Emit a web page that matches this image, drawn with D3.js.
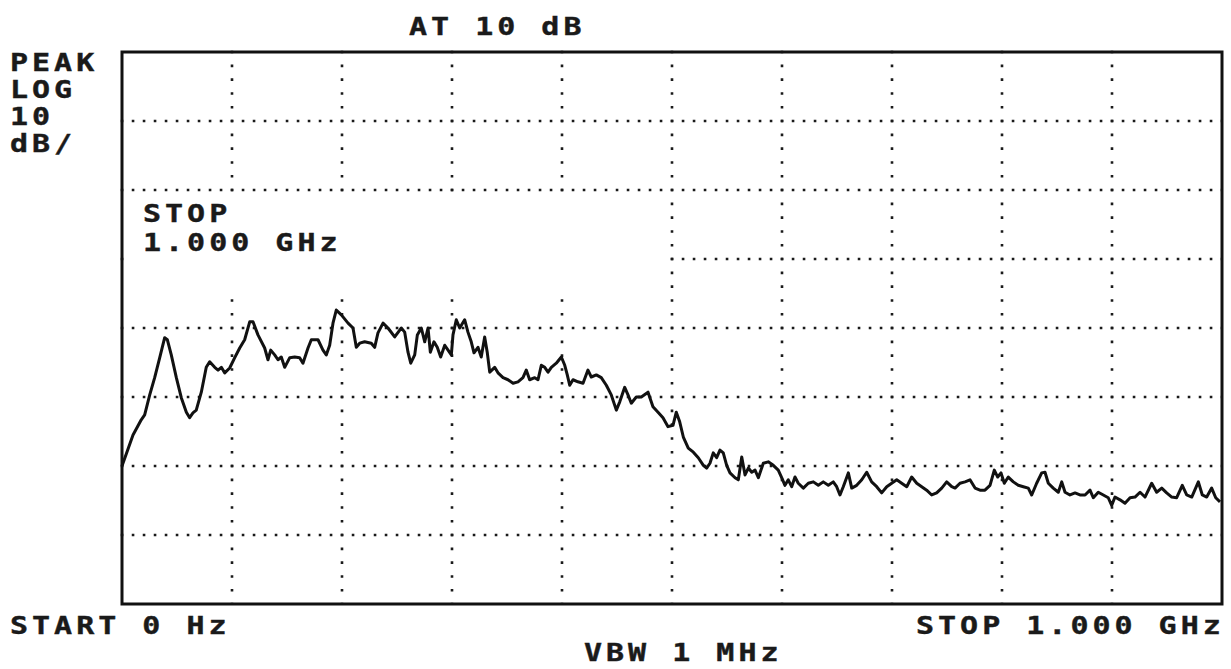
<!DOCTYPE html>
<html><head><meta charset="utf-8">
<script src="https://cdn.jsdelivr.net/npm/d3@7"></script>
<style>body{margin:0;background:#fff}svg{display:block}</style></head>
<body><svg id="c" width="1231" height="669"></svg>
<script>
// Trace: frequency (MHz) and level (dB relative to reference level, top graticule line)
const freqMHz = [0,10.0,17.5,20.6,25.2,29.7,34.3,38.8,41.2,44.8,49.4,53.9,58.5,61.5,64.5,67.5,72.1,76.6,79.7,84.3,87.3,90.3,93.4,97.9,102.5,107.0,111.5,116.1,119.1,123.6,129.7,132.7,135.2,138.8,141.8,144.8,147.9,152.5,157.0,161.5,164.5,169.1,172.1,178.2,182.7,185.7,188.8,191.8,194.8,199.4,205.5,210.0,213.0,216.1,220.6,226.6,229.7,232.7,237.3,241.8,247.9,252.5,253.9,257.0,260.0,262.5,266.1,268.5,272.1,275.2,278.2,280.3,283.6,286.6,289.7,293.4,296.4,299.4,300.9,303.9,307.0,311.5,314.5,317.5,320.0,323.6,326.6,329.7,332.1,334.3,338.8,341.8,346.4,350.9,355.5,360.0,364.5,367.5,370.6,375.2,378.2,381.2,384.3,387.3,390.3,394.8,399.4,402.5,404.8,407.0,410.0,414.5,419.1,423.6,426.6,431.2,435.7,440.3,444.8,449.4,452.5,457.0,460.0,463.0,467.5,472.1,478.2,482.7,487.3,491.8,496.4,500.9,503.9,507.0,510.3,514.8,519.4,523.9,528.5,531.5,534.5,537.5,540.6,543.6,546.6,549.7,552.7,557.3,560.3,563.4,566.4,569.4,572.5,575.5,578.5,583.0,587.5,592.1,596.6,599.7,602.7,605.7,608.8,611.8,614.8,619.4,623.9,628.5,633.0,637.5,642.1,646.6,649.7,652.7,655.7,660.3,663.4,667.9,672.5,677.0,681.5,686.1,690.6,695.2,699.7,704.3,708.8,713.4,717.9,722.5,727.0,731.5,736.1,740.6,745.2,749.7,754.3,757.3,761.8,766.4,770.9,775.5,780.0,784.5,789.1,793.0,796.1,799.1,802.1,805.7,810.3,814.8,819.4,823.9,827.0,831.5,836.1,839.1,842.1,846.6,851.2,854.3,857.3,861.8,866.4,870.9,875.5,880.0,883.0,887.5,892.1,896.6,899.7,902.7,907.3,911.8,916.4,920.9,925.5,930.0,936.1,940.6,945.2,949.7,954.3,958.8,963.9,967.9,972.5,978.5,982.1,986.1,990.6,994.3,998.2];
const levelDb = [-60.0,-55.5,-53.3,-52.6,-49.7,-47.2,-44.3,-41.4,-41.7,-43.9,-47.2,-50.1,-52.2,-53.0,-52.3,-51.9,-49.3,-45.7,-44.9,-45.7,-46.1,-45.7,-46.5,-45.8,-44.3,-42.9,-41.7,-39.1,-39.1,-41.0,-42.9,-44.6,-43.2,-43.9,-44.6,-44.2,-45.7,-44.3,-44.2,-44.3,-45.1,-42.9,-41.7,-41.7,-43.2,-43.9,-42.5,-39.3,-37.4,-38.1,-39.3,-40.0,-42.8,-42.2,-42.0,-42.2,-42.8,-40.7,-39.3,-40.0,-41.3,-40.3,-40.0,-40.6,-43.5,-45.1,-43.9,-41.0,-40.0,-42.0,-40.0,-43.5,-42.0,-42.8,-44.2,-42.5,-43.2,-43.9,-41.0,-38.8,-40.0,-38.8,-40.6,-42.0,-43.6,-42.8,-44.2,-41.3,-43.6,-46.4,-45.7,-46.5,-47.2,-47.5,-48.0,-47.8,-47.2,-46.1,-47.5,-47.2,-47.5,-45.4,-45.7,-46.4,-45.7,-45.1,-44.2,-45.4,-46.8,-48.3,-47.5,-47.8,-48.0,-46.1,-47.1,-46.8,-47.2,-48.3,-49.7,-51.9,-50.7,-48.6,-49.7,-50.9,-50.0,-50.0,-49.3,-51.4,-52.2,-53.0,-54.3,-54.1,-52.2,-53.6,-55.8,-57.4,-58.0,-58.8,-59.9,-60.3,-59.6,-58.1,-58.8,-57.7,-58.1,-59.9,-61.0,-61.7,-62.0,-58.7,-61.3,-60.3,-60.9,-60.6,-61.7,-59.6,-59.4,-59.9,-60.6,-61.7,-62.8,-62.0,-63.0,-61.6,-62.5,-63.2,-62.5,-62.3,-62.8,-62.3,-62.8,-62.3,-63.0,-64.2,-63.0,-61.0,-63.2,-62.8,-62.0,-60.9,-62.3,-63.0,-63.9,-63.0,-62.5,-62.0,-62.5,-63.0,-61.6,-62.5,-63.0,-63.5,-64.2,-63.9,-63.2,-62.3,-63.0,-63.2,-62.5,-62.3,-62.0,-63.2,-63.5,-63.5,-62.8,-60.6,-61.6,-61.0,-62.5,-61.6,-62.3,-62.8,-63.0,-63.2,-64.2,-62.5,-61.0,-60.9,-62.5,-63.2,-63.8,-62.3,-63.8,-64.2,-63.9,-64.2,-64.2,-63.5,-64.6,-63.8,-64.2,-64.6,-65.7,-64.5,-64.9,-65.4,-64.6,-64.5,-63.8,-64.5,-62.5,-63.8,-63.2,-63.9,-64.5,-64.6,-62.8,-64.2,-64.5,-62.3,-64.2,-64.5,-63.2,-64.6,-65.2];

const freqTicks = [0,100,200,300,400,500,600,700,800,900,1000];
const levelTicks = [0,-10,-20,-30,-40,-50,-60,-70,-80];

const topLabel = "AT 10 dB";
const sideLabels = ["PEAK","LOG","10","dB/"];
const boxLabels = ["STOP","1.000 GHz"];
const startLabel = "START 0 Hz";
const stopLabel = "STOP 1.000 GHz";
const vbwLabel = "VBW 1 MHz";

const svg = d3.select("#c");
const L = 122, R = 1222, T = 52, B = 604;
const x = d3.scaleLinear().domain([0,1000]).range([L,R]);
const y = d3.scaleLinear().domain([-80,0]).range([B,T]);

svg.append("rect").attr("width",1231).attr("height",669).attr("fill","#fff");

const g = svg.append("g");
// horizontal dotted graticule
g.selectAll("line.h").data(levelTicks.filter(d=>d!==0 && d!==-80)).enter().append("line")
  .attr("x1",L-1.25).attr("x2",R).attr("y1",d=>y(d)).attr("y2",d=>y(d))
  .attr("stroke","#1a1a1a").attr("stroke-width",2.6).attr("stroke-dasharray","2.6 8.4");
// vertical dotted graticule
g.selectAll("line.v").data(freqTicks.filter(d=>d!==0 && d!==1000)).enter().append("line")
  .attr("x1",d=>x(d)).attr("x2",d=>x(d)).attr("y1",T-1.25).attr("y2",B)
  .attr("stroke","#1a1a1a").attr("stroke-width",2.6).attr("stroke-dasharray","2.6 11.2");
// annotation area blanks the graticule
g.append("rect").attr("x",L+2).attr("y",y(-20)+3).attr("width",x(500)-L-6).attr("height",y(-35)-y(-20)-3).attr("fill","#fff");

// trace
const line = d3.line().x((d,i)=>x(freqMHz[i])).y(d=>y(d));
svg.append("path").datum(levelDb).attr("d",line).attr("fill","none")
  .attr("stroke","#111").attr("stroke-width",3).attr("stroke-linejoin","round");

// frame
svg.append("rect").attr("x",L).attr("y",T).attr("width",R-L).attr("height",B-T)
  .attr("fill","none").attr("stroke","#111").attr("stroke-width",3);

// text (wide monospaced instrument font: horizontally stretched)
function label(s, px, py){
  svg.append("text").attr("transform",`translate(${px},${py}) scale(1.25,1)`)
    .attr("font-family","'DejaVu Sans Mono', monospace").attr("font-weight","bold")
    .attr("font-size",24).attr("letter-spacing","3.2px").attr("fill","#1a1a1a")
    .attr("stroke","#1a1a1a").attr("stroke-width",0.4).text(s);
}
label(topLabel, 409, 35);
sideLabels.forEach((s,i)=>label(s, 10, 71+i*27));
boxLabels.forEach((s,i)=>label(s, 143, 222+i*29));
label(startLabel, 10, 634);
label(stopLabel, 916, 634);
label(vbwLabel, 584, 661);
</script></body></html>
